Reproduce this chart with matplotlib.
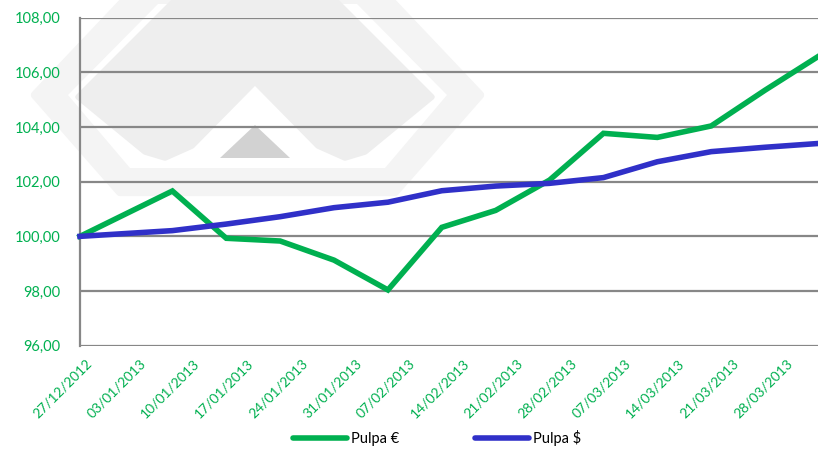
# -*- coding: utf-8 -*-
# Pulpa € vs Pulpa $ (índice base 100)
import pandas as pd
import matplotlib
matplotlib.use('Agg')
import matplotlib.pyplot as plt
import matplotlib.transforms as mtransforms
from matplotlib.patches import Polygon
from matplotlib.lines import Line2D

plt.rcParams['font.family'] = ['Lato', 'DejaVu Sans']

fechas = ['27/12/2012', '08/01/2013', '15/01/2013', '22/01/2013', '29/01/2013',
          '05/02/2013', '12/02/2013', '19/02/2013', '26/02/2013', '05/03/2013',
          '12/03/2013', '19/03/2013', '26/03/2013', '02/04/2013']
pulpa_eur = [100.00, 101.66, 99.93, 99.83, 99.13, 98.04, 100.33, 100.95,
             102.06, 103.77, 103.62, 104.04, 105.35, 106.60]
pulpa_usd = [100.00, 100.21, 100.45, 100.72, 101.05, 101.25, 101.67, 101.84,
             101.94, 102.15, 102.73, 103.10, 103.26, 103.40]
etiquetas_x = ['27/12/2012', '03/01/2013', '10/01/2013', '17/01/2013', '24/01/2013',
               '31/01/2013', '07/02/2013', '14/02/2013', '21/02/2013', '28/02/2013',
               '07/03/2013', '14/03/2013', '21/03/2013', '28/03/2013']

verde = '#00B050'
azul = '#3030C8'
gris = '#878787'

x = pd.to_datetime(fechas, format='%d/%m/%Y')
ticks = pd.to_datetime(etiquetas_x, format='%d/%m/%Y')

W, H = 818, 449
fig = plt.figure(figsize=(W / 100, H / 100), dpi=100)

# marca de agua (logo gris claro de fondo), en pixeles de la imagen
def px(pts):
    return [(a / W, 1 - b / H) for a, b in pts]

def logo(pts, **kw):
    fig.patches.append(Polygon(px(pts), closed=True, transform=fig.transFigure,
                               zorder=0, joinstyle='round', **kw))

logo([(35, 95), (125, 0), (390, 0), (480, 95), (395, 192), (120, 192)],
     fc='#f4f4f4', ec='#f4f4f4', lw=6)
logo([(68, 95), (158, 4), (357, 4), (447, 95), (385, 168), (130, 168)],
     fc='white', ec='none')
logo([(78, 97), (185, -10), (325, -10), (432, 97), (365, 152), (345, 158),
      (318, 146), (255, 82), (192, 146), (165, 158), (145, 152)],
     fc='#eeeeee', ec='#eeeeee', lw=4)
logo([(220, 158), (255, 125), (290, 158)], fc='#d2d2d2', ec='none')

ax = fig.add_axes([80 / W, 1 - 345.7 / H, 739 / W, (345.7 - 17.7) / H])
ax.set_zorder(2)
ax.patch.set_alpha(0)

ax.plot(x, pulpa_eur, color=verde, lw=4, solid_joinstyle='miter', label=u'Pulpa €',
        clip_on=False, zorder=3)
ax.plot(x, pulpa_usd, color=azul, lw=4, solid_joinstyle='miter', label=u'Pulpa $',
        clip_on=False, zorder=3)

ax.set_xlim(x[0], x[-1])
ax.set_ylim(96, 108)
ax.set_yticks(range(96, 109, 2))
ax.set_yticklabels(['%d,00' % v for v in range(96, 109, 2)])
ax.yaxis.grid(True, color=gris, lw=1.6)
ax.set_axisbelow(True)

ax.set_xticks(ticks)
ax.set_xticklabels(etiquetas_x)
for s in ['top', 'right', 'bottom']:
    ax.spines[s].set_visible(False)
ax.spines['left'].set_color(gris)
ax.spines['left'].set_linewidth(1.6)

ax.tick_params(axis='y', length=0, pad=14, labelsize=10.5, labelcolor=verde)
ax.tick_params(axis='x', length=0, pad=8, labelsize=10, labelcolor=verde)
off = mtransforms.ScaledTranslation(4 / 72, 0, fig.dpi_scale_trans)
for lab in ax.get_xticklabels():
    lab.set_rotation(45)
    lab.set_ha('right')
    lab.set_va('top')
    lab.set_rotation_mode('anchor')
    lab.set_transform(lab.get_transform() + off)

handles = [Line2D([], [], color=verde, lw=4, solid_capstyle='round'),
           Line2D([], [], color=azul, lw=4, solid_capstyle='round')]
fig.legend(handles, [u'Pulpa €', u'Pulpa $'], loc='center', ncol=2, frameon=False,
           bbox_to_anchor=(437 / W, 1 - 438 / H), fontsize=10.5, handlelength=3.7,
           handletextpad=0.3, columnspacing=5.2)

fig.savefig('out.png', dpi=100)
